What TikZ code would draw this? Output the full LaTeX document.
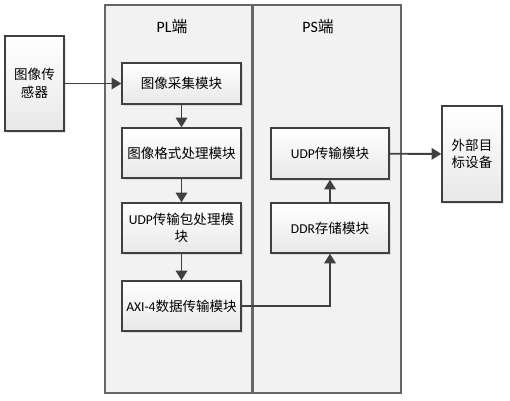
\documentclass[tikz,border=0pt]{standalone}
\usepackage{fontspec}
\setmainfont{Carlito}
\newfontfamily\cjk{Noto Sans CJK SC}
\usepackage{tikz}
\usetikzlibrary{arrows.meta,shadows}
\definecolor{linegray}{HTML}{404040}
\definecolor{panelgray}{HTML}{F2F2F2}

\begin{document}
\begin{tikzpicture}[x=0.02cm, y=-0.02cm,
            font=\fontsize{7.7}{10}\selectfont,
            panel/.style={rectangle, draw=linegray!80, line width=0.8pt, fill=panelgray},
            sidelabel/.style={font=\fontsize{9}{11}\selectfont},
            modbox/.style={rectangle, draw=linegray, line width=0.8pt, top color=white, bottom color=gray!18,
                           drop shadow={opacity=0.2, shadow xshift=1pt, shadow yshift=-1pt},
                           align=center, inner sep=1pt, text width=2.25cm},
            sidebox/.style={modbox, text width=1.05cm},
            flow/.style={-{Triangle[length=5.5pt, width=6.5pt]}, draw=linegray, line width=1.1pt}
        ]
        \useasboundingbox (0,0) rectangle (510,400);
        % two sides of the board
        \node[panel, minimum width=147*0.02cm, minimum height=388*0.02cm] (pl) at (178.5,199) {};
        \node[panel, minimum width=148*0.02cm, minimum height=388*0.02cm] (ps) at (327,199) {};
        \node[sidelabel] (pllabel) at (172,27) {PL{\cjk 端}};
        \node[sidelabel] (pslabel) at (318,27) {PS{\cjk 端}};
        % outside blocks
        \node[sidebox, minimum width=59*0.02cm, minimum height=95*0.02cm] (sensor) at (34.5,83.5) {\cjk 图像传\\感器};
        \node[sidebox, minimum width=60*0.02cm, minimum height=96*0.02cm] (target) at (472,154) {\cjk 外部目\\标设备};
        % PL modules
        \node[modbox, minimum width=119*0.02cm, minimum height=41*0.02cm] (capture) at (181.5,83.5) {\cjk 图像采集模块};
        \node[modbox, minimum width=119*0.02cm, minimum height=50*0.02cm] (format) at (181.5,153) {\cjk 图像格式处理模块};
        \node[modbox, minimum width=119*0.02cm, minimum height=50*0.02cm] (udppkt) at (181.5,228) {UDP{\cjk 传输包处理模}\\{\cjk 块}};
        \node[modbox, minimum width=119*0.02cm, minimum height=50*0.02cm] (axi) at (181.5,306) {AXI-4{\cjk 数据传输模块}};
        % PS modules
        \node[modbox, minimum width=118*0.02cm, minimum height=51*0.02cm] (udp) at (330,153.5) {UDP{\cjk 传输模块}};
        \node[modbox, minimum width=118*0.02cm, minimum height=50*0.02cm] (ddr) at (330,228) {DDR{\cjk 存储模块}};
        % data flow
        \draw[flow] (sensor) -- (capture);
        \draw[flow] (capture) -- (format);
        \draw[flow] (format) -- (udppkt);
        \draw[flow] (udppkt) -- (axi);
        \draw[flow] (axi.east) -| (ddr.south);
        \draw[flow] (ddr) -- (udp);
        \draw[flow] (udp) -- (target);
\end{tikzpicture}
\end{document}
